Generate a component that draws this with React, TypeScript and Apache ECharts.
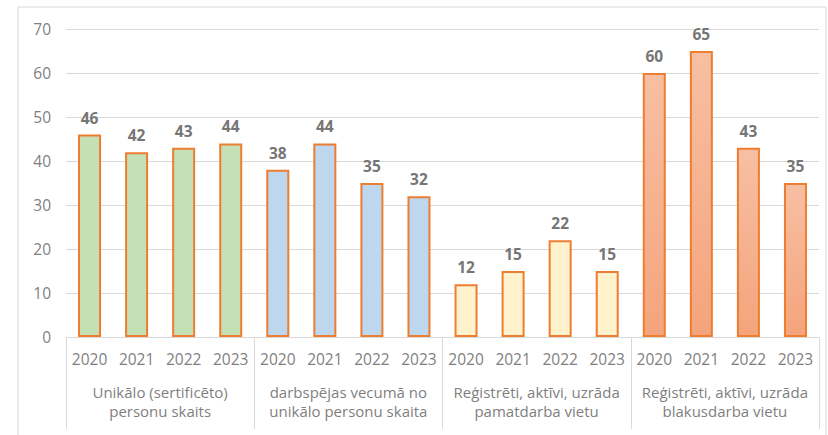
import React, { useEffect, useRef } from "react";
import * as echarts from "echarts";

const years = ["2020", "2021", "2022", "2023"];
const groups = [
  "Unikālo (sertificēto)\npersonu skaits",
  "darbspējas vecumā no\nunikālo personu skaita",
  "Reģistrēti, aktīvi, uzrāda\npamatdarba vietu",
  "Reģistrēti, aktīvi, uzrāda\nblakusdarba vietu",
];
const uniqueCount = [46, 42, 43, 44];
const workingAge = [38, 44, 35, 32];
const mainJob = [12, 15, 22, 15];
const sideJob = [60, 65, 43, 35];
const yTicks = { min: 0, max: 70, interval: 10 };

const groupColors = ["#c5e0b4", "#bdd7ee", "#fff2cc", "gradient"];

export default function App() {
  const ref = useRef<HTMLDivElement>(null);
  useEffect(() => {
    if (!ref.current) return;
    const chart = echarts.init(ref.current, null, { renderer: "svg" });
    const allValues = [uniqueCount, workingAge, mainJob, sideJob];
    const cats: string[] = [];
    const data: any[] = [];
    allValues.forEach((vals, gi) => {
      vals.forEach((v, i) => {
        cats.push(years[i]);
        const c = groupColors[gi];
        const color =
          c === "gradient"
            ? new echarts.graphic.LinearGradient(0, 0, 0, 1, [
                { offset: 0, color: "#f7bfa3" },
                { offset: 1, color: "#f4a47c" },
              ])
            : c;
        data.push({ value: v, itemStyle: { color } });
      });
    });
    const font = "'Open Sans', sans-serif";
    chart.setOption({
      animation: false,
      textStyle: { fontFamily: font },
      grid: { left: 66, right: 9, top: 29, bottom: 98 },
      graphic: [
        {
          type: "rect",
          shape: { x: 18, y: 7, width: 808, height: 440 },
          style: { fill: "none", stroke: "#d9d9d9", lineWidth: 1 },
          silent: true,
        },
      ],
      xAxis: [
        {
          type: "category",
          data: cats,
          axisLine: { show: false },
          axisTick: { show: false },
          axisLabel: { color: "#7f7f7f", fontSize: 15.5, margin: 14, fontFamily: font, interval: 0 },
        },
        {
          type: "category",
          data: groups,
          position: "bottom",
          axisLine: { show: true, lineStyle: { color: "#d9d9d9", width: 1 } },
          axisTick: { show: true, length: 92, lineStyle: { color: "#d9d9d9", width: 1 } },
          axisLabel: {
            color: "#7f7f7f",
            fontSize: 15,
            margin: 45,
            lineHeight: 19,
            fontFamily: font,
            interval: 0,
          },
        },
      ],
      yAxis: {
        type: "value",
        min: yTicks.min,
        max: yTicks.max,
        interval: yTicks.interval,
        axisLine: { show: false },
        axisTick: { show: false },
        axisLabel: { color: "#7f7f7f", fontSize: 15.5, margin: 15, fontFamily: font },
        splitLine: { lineStyle: { color: "#d9d9d9", width: 1 } },
      },
      series: [
        {
          type: "bar",
          xAxisIndex: 0,
          data,
          barWidth: 23,
          itemStyle: { borderColor: "#ed7d31", borderWidth: 2 },
          label: {
            show: true,
            position: "top",
            distance: 9,
            color: "#767676",
            fontSize: 15.5,
            fontWeight: "bold",
            fontFamily: font,
          },
        },
      ],
    });
    return () => chart.dispose();
  }, []);
  return (
    <div
      ref={ref}
      style={{ position: "absolute", left: 0, top: 0, width: 828, height: 435, background: "#fff" }}
    />
  );
}
